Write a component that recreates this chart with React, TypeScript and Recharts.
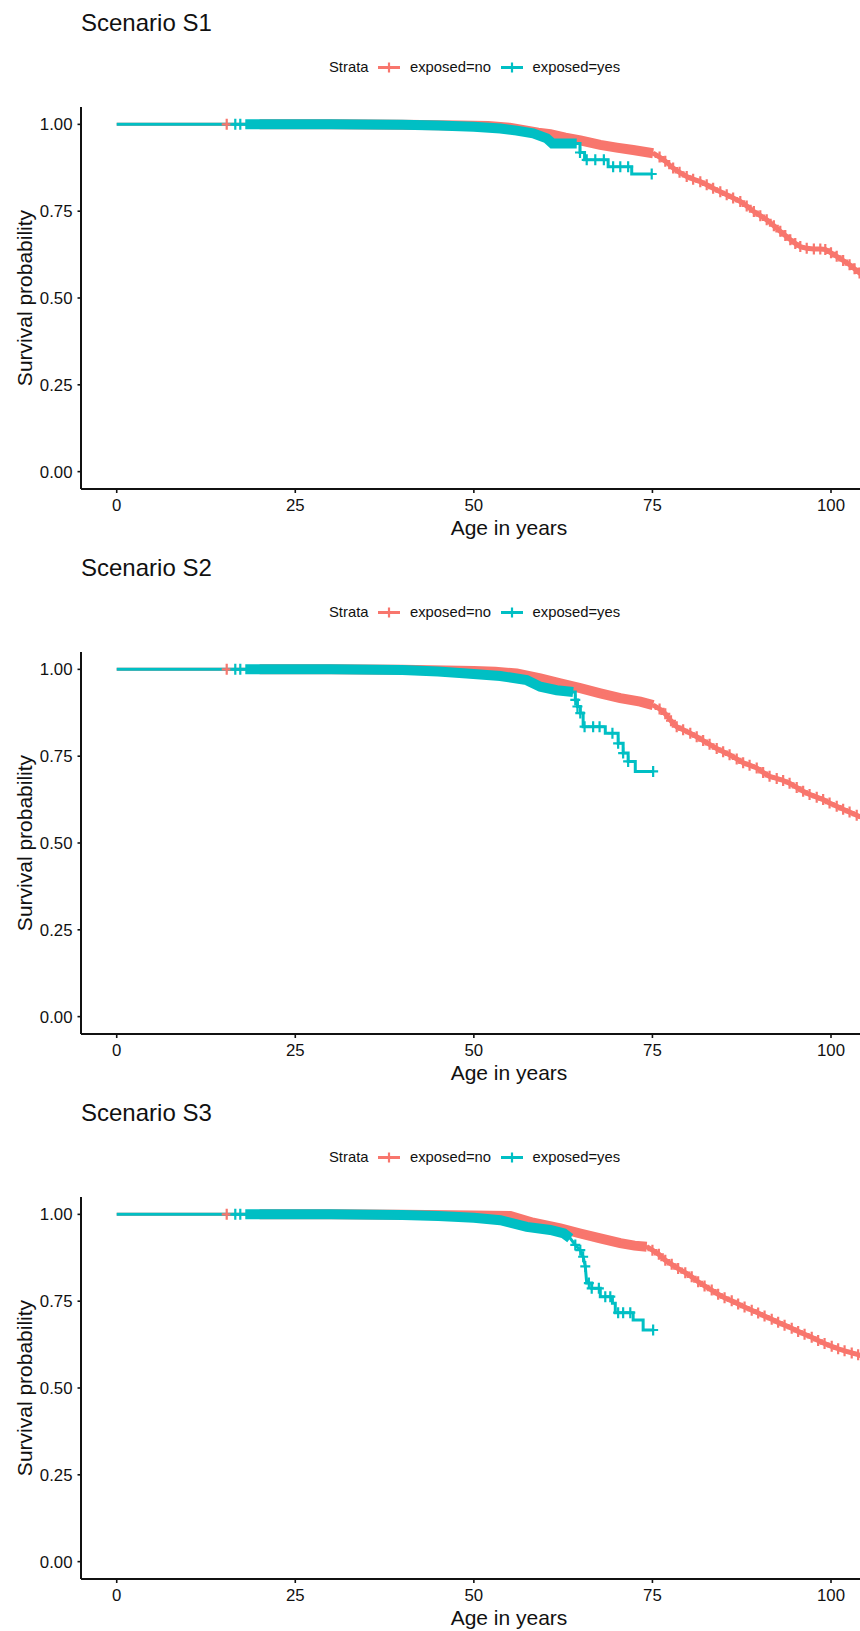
import { LineChart, Line, XAxis, YAxis, Legend } from 'recharts'

// [age, survival, flag]
// flag: 0 = plain step point, 1 = censor mark, 2 = inside dense censoring band, 3 = censor mark in the thick tail
type Pt = [number, number, number]

const scenarioTitles = ['Scenario S1', 'Scenario S2', 'Scenario S3']
const strata = ['exposed=no', 'exposed=yes']
const ageTicks = [0, 25, 50, 75, 100]
const survTicks = [0, 0.25, 0.5, 0.75, 1]

const s1No: Pt[] = [
  [0, 1, 0], [15.4, 1, 1], [20, 1, 2], [30, 1, 2], [40, 0.999, 2], [48, 0.997, 2], [52, 0.995, 2],
  [55, 0.99, 2], [57, 0.983, 2], [59, 0.976, 2], [60.7, 0.972, 2], [62.8, 0.962, 2], [64.9, 0.954, 2],
  [67.7, 0.941, 2], [70, 0.933, 2], [72.3, 0.926, 2], [75.1, 0.917, 2],
  [76, 0.906, 3], [76.8, 0.894, 3], [77.9, 0.874, 3], [78.8, 0.862, 3], [79.8, 0.85, 3], [80.7, 0.842, 3],
  [81.7, 0.835, 3], [82.6, 0.826, 3], [83.5, 0.816, 3], [84.5, 0.806, 3], [85.4, 0.797, 3], [86.3, 0.788, 3],
  [87.3, 0.778, 3], [88.2, 0.765, 3], [89.2, 0.749, 3], [90.1, 0.737, 3], [91, 0.725, 3], [92, 0.708, 3],
  [92.9, 0.692, 3], [93.6, 0.68, 3], [94.3, 0.668, 3], [95, 0.657, 3], [95.7, 0.648, 3], [96.6, 0.643, 3],
  [97.6, 0.641, 3], [98.5, 0.641, 3], [99.2, 0.64, 3], [100, 0.63, 3], [100.8, 0.62, 3], [101.7, 0.608, 3],
  [102.6, 0.596, 3], [103.3, 0.584, 3], [104, 0.572, 3], [105, 0.558, 3], [106, 0.545, 3], [107.5, 0.525, 3],
]

const s1Yes: Pt[] = [
  [0, 1, 0], [16.6, 1, 1], [17.3, 1, 1], [18, 1, 2], [30, 1, 2], [40, 0.999, 2], [45, 0.997, 2],
  [50, 0.993, 2], [53.7, 0.988, 2], [56, 0.982, 2], [58.3, 0.974, 2], [60.2, 0.96, 2], [61, 0.945, 2],
  [64.4, 0.945, 2], [64.86, 0.945, 0], [64.86, 0.919, 1], [65.5, 0.919, 0], [65.5, 0.898, 0],
  [65.8, 0.898, 1], [67, 0.898, 1], [68.2, 0.898, 1], [68.8, 0.898, 0], [68.8, 0.878, 0],
  [69.5, 0.878, 1], [70.5, 0.878, 1], [71.6, 0.878, 1], [72.1, 0.878, 0], [72.1, 0.857, 0], [74.9, 0.857, 1],
]

const s2No: Pt[] = [
  [0, 1, 0], [15.4, 1, 1], [20, 1, 2], [30, 1, 2], [40, 0.999, 2], [50, 0.995, 2], [53, 0.993, 2],
  [56, 0.988, 2], [59.3, 0.974, 2], [62.1, 0.96, 2], [64.9, 0.946, 2], [67.7, 0.931, 2], [70.5, 0.917, 2],
  [73.3, 0.907, 2], [75.1, 0.897, 2],
  [76, 0.886, 3], [76.8, 0.872, 3], [77.6, 0.852, 3], [78.4, 0.835, 3], [79.3, 0.826, 3], [80.3, 0.816, 3],
  [81.2, 0.806, 3], [82.1, 0.795, 3], [83, 0.784, 3], [84, 0.772, 3], [84.9, 0.763, 3], [85.8, 0.754, 3],
  [86.8, 0.742, 3], [87.7, 0.731, 3], [88.6, 0.724, 3], [89.6, 0.716, 3], [90.5, 0.703, 3], [91.4, 0.692, 3],
  [92.4, 0.686, 3], [93.3, 0.68, 3], [94.2, 0.672, 3], [95.2, 0.66, 3], [96.1, 0.649, 3], [97, 0.64, 3],
  [98, 0.632, 3], [98.9, 0.625, 3], [99.8, 0.615, 3], [100.8, 0.606, 3], [101.7, 0.597, 3], [102.6, 0.589, 3],
  [103.6, 0.58, 3], [104.5, 0.572, 3], [105.5, 0.563, 3], [107, 0.55, 3],
]

const s2Yes: Pt[] = [
  [0, 1, 0], [16.6, 1, 1], [17.3, 1, 1], [18, 1, 2], [30, 1, 2], [40, 0.998, 2], [45, 0.994, 2],
  [49, 0.988, 2], [53.7, 0.981, 2], [57.4, 0.969, 2], [59.3, 0.95, 2], [61.6, 0.94, 2], [63.9, 0.935, 2],
  [64.2, 0.935, 0], [64.2, 0.912, 1], [64.5, 0.912, 0], [64.5, 0.893, 1], [64.9, 0.893, 0], [64.9, 0.874, 1],
  [65.3, 0.874, 0], [65.3, 0.835, 0], [65.5, 0.835, 1], [66.7, 0.835, 1], [67.6, 0.835, 1], [68.4, 0.835, 0],
  [68.4, 0.816, 0], [69.4, 0.816, 1], [70.2, 0.816, 0], [70.2, 0.787, 1], [70.9, 0.787, 0], [70.9, 0.759, 1],
  [71.6, 0.759, 0], [71.6, 0.735, 1], [72.6, 0.735, 0], [72.6, 0.706, 0], [75.1, 0.706, 1],
]

const s3No: Pt[] = [
  [0, 1, 0], [15.4, 1, 1], [20, 1, 2], [30, 1, 2], [40, 0.999, 2], [50, 0.997, 2], [55.1, 0.995, 2],
  [58.3, 0.976, 2], [62.1, 0.96, 2], [64.9, 0.945, 2], [67.7, 0.931, 2], [70.5, 0.917, 2], [72.5, 0.91, 2],
  [74.2, 0.907, 2],
  [75, 0.897, 3], [75.9, 0.885, 3], [76.8, 0.868, 3], [77.7, 0.856, 3], [78.6, 0.844, 3], [79.6, 0.832, 3],
  [80.5, 0.82, 3], [81.4, 0.806, 3], [82.3, 0.794, 3], [83.3, 0.782, 3], [84.2, 0.77, 3], [85.1, 0.76, 3],
  [86.1, 0.751, 3], [87, 0.742, 3], [87.9, 0.733, 3], [88.9, 0.724, 3], [89.8, 0.716, 3], [90.7, 0.707, 3],
  [91.7, 0.698, 3], [92.6, 0.689, 3], [93.5, 0.681, 3], [94.5, 0.672, 3], [95.4, 0.663, 3], [96.3, 0.655, 3],
  [97.3, 0.646, 3], [98.2, 0.637, 3], [99.1, 0.628, 3], [100.1, 0.62, 3], [101, 0.613, 3], [101.9, 0.607, 3],
  [102.9, 0.601, 3], [103.8, 0.596, 3], [104.7, 0.59, 3], [106, 0.582, 3],
]

const s3Yes: Pt[] = [
  [0, 1, 0], [16.6, 1, 1], [17.3, 1, 1], [18, 1, 2], [30, 1, 2], [40, 0.998, 2], [45, 0.995, 2],
  [50, 0.99, 2], [53.7, 0.983, 2], [57.4, 0.964, 2], [60.7, 0.955, 2], [62.6, 0.945, 2], [63.5, 0.931, 2],
  [64.2, 0.912, 1], [64.9, 0.897, 1], [65.3, 0.878, 1], [65.6, 0.85, 1], [65.8, 0.802, 0], [66.1, 0.802, 1],
  [66.5, 0.802, 0], [66.5, 0.787, 1], [67.5, 0.787, 1], [67.7, 0.787, 0], [67.7, 0.763, 0], [68.4, 0.763, 1],
  [69.1, 0.763, 1], [69.4, 0.763, 0], [69.4, 0.744, 0], [69.8, 0.744, 0], [69.8, 0.717, 0], [70.2, 0.717, 1],
  [70.9, 0.717, 1], [71.9, 0.717, 1], [72.3, 0.717, 0], [72.3, 0.696, 0], [73.7, 0.696, 0], [73.7, 0.667, 0],
  [75.1, 0.667, 1],
]

const scenarios = [
  { no: s1No, yes: s1Yes },
  { no: s2No, yes: s2Yes },
  { no: s3No, yes: s3Yes },
]

const RED = '#F8766D'
const TEAL = '#00BFC4'
const INK = '#111'
const FONT = '"Liberation Sans", Arial, Helvetica, sans-serif'
const PANEL_H = 545

const toRows = (pts: Pt[]) => pts.map(([t, s, c]) => ({ t, s, c }))
const bandRows = (pts: Pt[]) => toRows(pts.filter((p) => p[2] === 2))
// thick tail: from the last band point to the end of the marked tail
const tailRows = (pts: Pt[]) => {
  const i = pts.findIndex((p) => p[2] === 3)
  return i < 0 ? [] : toRows(pts.slice(Math.max(0, i - 1)))
}

function censorMark(props: any) {
  const { cx, cy, payload, stroke, index } = props
  if (!payload || (payload.c !== 1 && payload.c !== 3) || cx == null || cy == null) return <g key={`n${index}`} />
  return (
    <path
      key={`m${index}`}
      d={`M${cx - 5},${cy}h10M${cx},${cy - 5.5}v11`}
      stroke={stroke}
      strokeWidth={2.2}
      fill="none"
    />
  )
}

function StrataLegend() {
  const colors = [RED, TEAL]
  return (
    <div style={{ display: 'flex', alignItems: 'center', fontFamily: FONT, fontSize: 14.8, lineHeight: '15px', color: INK, whiteSpace: 'nowrap' }}>
      <span>Strata</span>
      {strata.map((name, i) => (
        <span key={name} style={{ display: 'flex', alignItems: 'center', marginLeft: 10 }}>
          <svg width={22} height={15} style={{ display: 'block' }}>
            <line x1={0} x2={22} y1={7.5} y2={7.5} stroke={colors[i]} strokeWidth={3} />
            <line x1={11} x2={11} y1={2.5} y2={12.5} stroke={colors[i]} strokeWidth={2.2} />
          </svg>
          <span style={{ marginLeft: 9.5 }}>{name}</span>
        </span>
      ))}
    </div>
  )
}

function SurvivalPanel({ title, no, yes }: { title: string; no: Pt[]; yes: Pt[] }) {
  return (
    <div style={{ position: 'relative', width: 960, height: PANEL_H }}>
      <div style={{ position: 'absolute', left: 81, top: 10.7, fontFamily: FONT, fontSize: 24, lineHeight: '24px', color: INK, whiteSpace: 'nowrap' }}>
        {title}
      </div>
      <LineChart width={960} height={PANEL_H} margin={{ top: 107, right: 23, bottom: 16, left: 0 }}>
        <XAxis
          dataKey="t"
          type="number"
          domain={[-5, 114.84]}
          ticks={ageTicks}
          allowDataOverflow
          height={40}
          tickSize={4}
          tickMargin={6}
          tick={{ fill: INK, fontSize: 16.8, fontFamily: FONT }}
          tickLine={{ stroke: INK, strokeWidth: 1.6 }}
          axisLine={{ stroke: INK, strokeWidth: 2 }}
          label={() => (
            <text x={509} y={535} textAnchor="middle" fontSize={21} fontFamily={FONT} fill={INK}>
              Age in years
            </text>
          )}
        />
        <YAxis
          dataKey="s"
          type="number"
          domain={[-0.05, 1.05]}
          ticks={survTicks}
          allowDataOverflow
          width={81}
          tickSize={3.5}
          tickMargin={5}
          tickFormatter={(v: number) => v.toFixed(2)}
          tick={{ fill: INK, fontSize: 16.8, fontFamily: FONT }}
          tickLine={{ stroke: INK, strokeWidth: 1.6 }}
          axisLine={{ stroke: INK, strokeWidth: 2 }}
          label={() => (
            <text x={32} y={298} transform="rotate(-90 32 298)" textAnchor="middle" fontSize={21} fontFamily={FONT} fill={INK}>
              Survival probability
            </text>
          )}
        />
        <Legend
          layout="horizontal"
          verticalAlign="middle"
          align="center"
          content={() => <StrataLegend />}
          wrapperStyle={{ top: 60.3, left: 329, width: 320, height: 15 }}
        />
        <Line data={bandRows(no)} dataKey="s" type="linear" stroke={RED} strokeWidth={10} strokeLinecap="butt" dot={false} activeDot={false} legendType="none" isAnimationActive={false} />
        <Line data={tailRows(no)} dataKey="s" type="linear" stroke={RED} strokeWidth={5} dot={false} activeDot={false} legendType="none" isAnimationActive={false} />
        <Line data={toRows(no)} dataKey="s" type="linear" stroke={RED} strokeWidth={3} dot={censorMark} activeDot={false} legendType="none" isAnimationActive={false} />
        <Line data={bandRows(yes)} dataKey="s" type="linear" stroke={TEAL} strokeWidth={10} strokeLinecap="butt" dot={false} activeDot={false} legendType="none" isAnimationActive={false} />
        <Line data={toRows(yes)} dataKey="s" type="linear" stroke={TEAL} strokeWidth={3} dot={censorMark} activeDot={false} legendType="none" isAnimationActive={false} />
      </LineChart>
    </div>
  )
}

export default function App() {
  return (
    <div style={{ position: 'absolute', left: 0, top: 0, width: 860, height: 1631, overflow: 'hidden', background: '#fff' }}>
      {scenarios.map((sc, i) => (
        <div key={scenarioTitles[i]} style={{ position: 'absolute', left: 0, top: i * PANEL_H }}>
          <SurvivalPanel title={scenarioTitles[i]} no={sc.no} yes={sc.yes} />
        </div>
      ))}
    </div>
  )
}
